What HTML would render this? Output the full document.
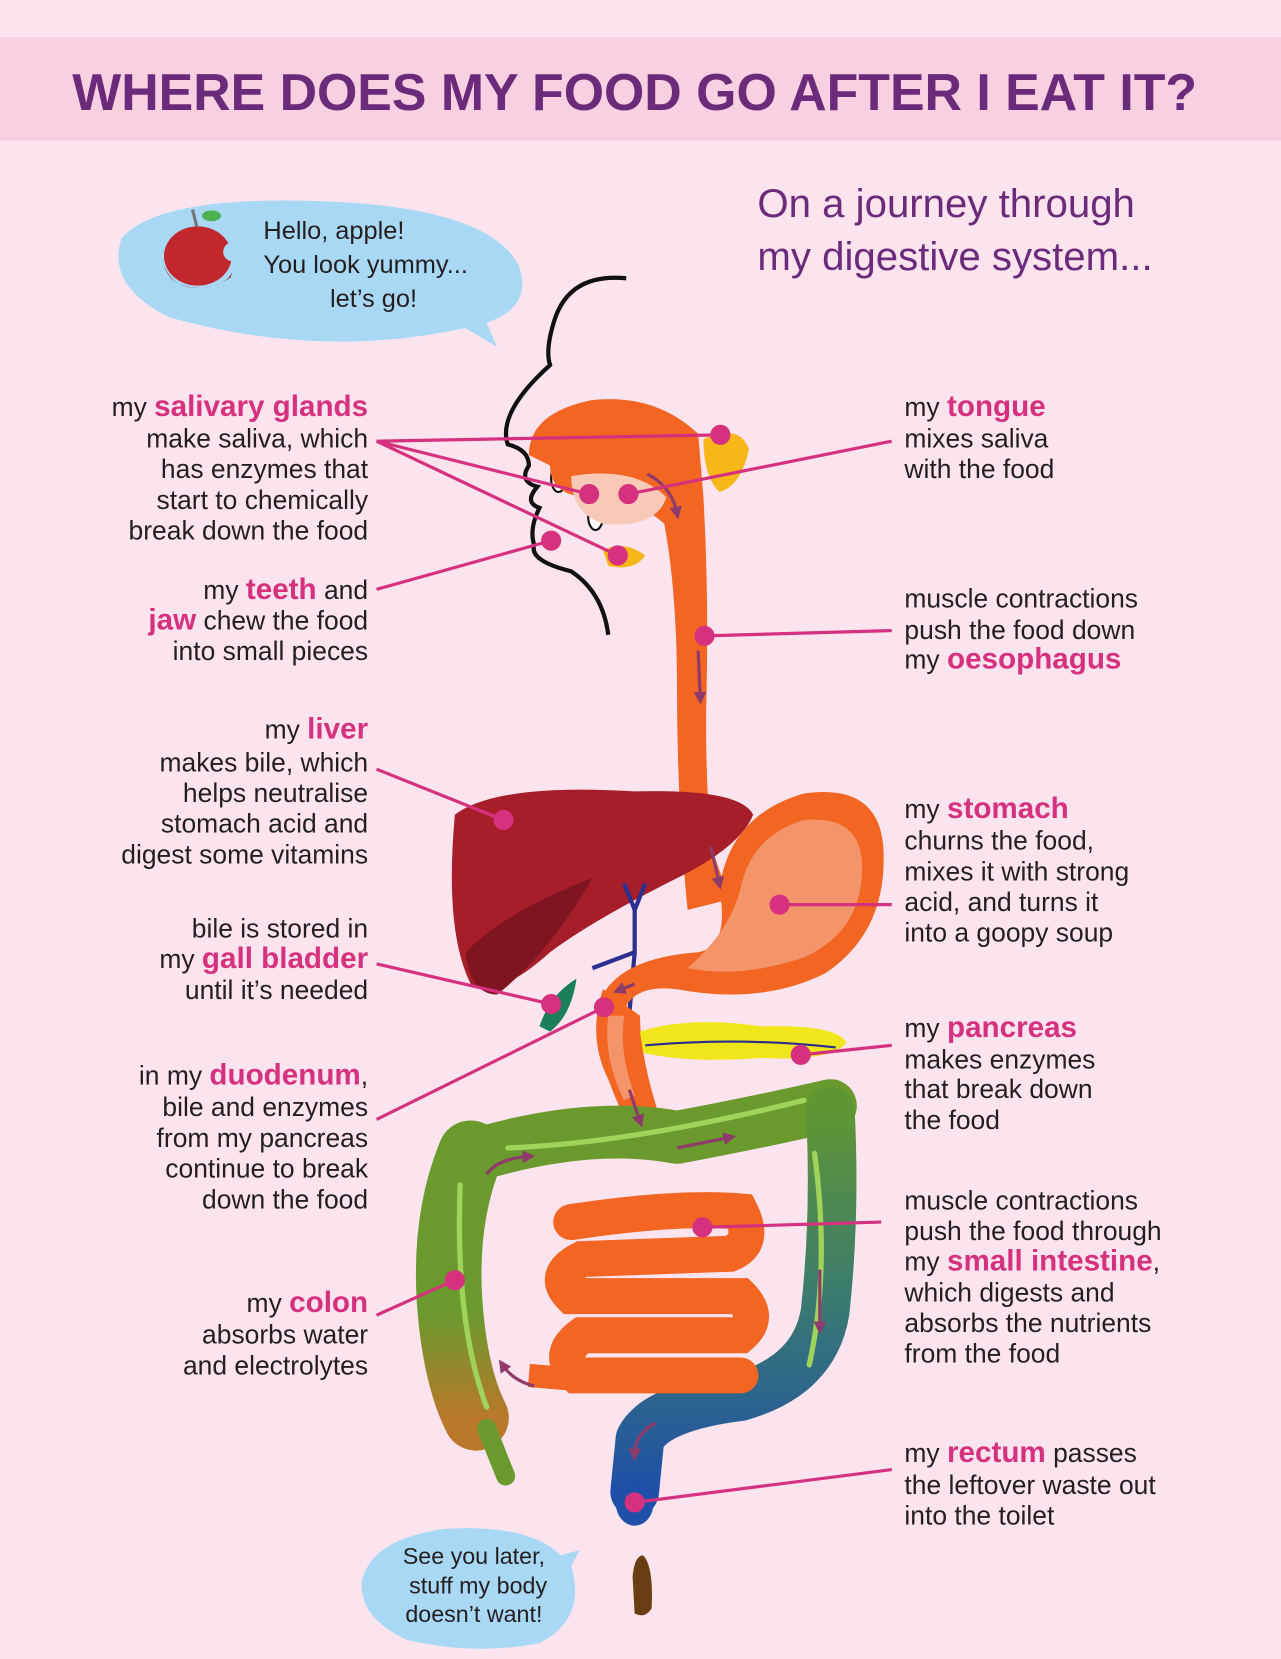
<!DOCTYPE html>
<html><head><meta charset="utf-8"><style>
html,body{margin:0;padding:0;background:#fbe4ee;}
svg{display:block}
text{font-family:"Liberation Sans","DejaVu Sans",sans-serif;}
.l{font-size:25px;fill:#231f20;text-anchor:end}
.r{font-size:25px;fill:#231f20}
.k{fill:#d6317e;font-weight:bold;font-size:28px}
</style></head><body>
<svg width="1281" height="1659" viewBox="0 0 1211 1568" preserveAspectRatio="none" xmlns="http://www.w3.org/2000/svg">
<defs>
<marker id="ar" viewBox="0 0 10 10" refX="5" refY="5" markerWidth="4" markerHeight="4" orient="auto"><path d="M0,0L10,5L0,10z" fill="#8e3b6b"/></marker>
<linearGradient id="rg" x1="0" y1="0" x2="0" y2="1"><stop offset="0" stop-color="#5f9634"/><stop offset="0.5" stop-color="#3a7a70"/><stop offset="1" stop-color="#1f4fa8"/></linearGradient>
<linearGradient id="lg" x1="0" y1="0" x2="0" y2="1"><stop offset="0.6" stop-color="#6a9a2e"/><stop offset="1" stop-color="#b9782a"/></linearGradient>
</defs>
<rect width="1211" height="1568" fill="#fbe4ee"/>
<rect x="0" y="35" width="1211" height="98" fill="#f8d0e1"/>
<text x="600" y="104" text-anchor="middle" font-size="49" font-weight="bold" fill="#6b2a7a">WHERE DOES MY FOOD GO AFTER I EAT IT?</text>
<text x="716" y="205" font-size="38" fill="#6b2a7a">On a journey through</text>
<text x="716" y="255" font-size="38" fill="#6b2a7a">my digestive system...</text>

<!-- bubble 1 -->
<path d="M470,328 L440,310 Q303,340 160,300 Q100,270 115,225 Q150,185 300,190 Q460,195 490,250 Q505,290 460,305 Z" fill="#a9d8f5"/>
<ellipse cx="187" cy="242" rx="32" ry="28" fill="#c1272d"/>
<path d="M155,250 Q160,272 190,272 Q215,270 220,256 L218,262 Q205,272 187,272 Q162,272 155,250Z" fill="#8e1b20"/>
<circle cx="220" cy="238" r="9" fill="#a9d8f5"/>
<path d="M186,214 L182,198" stroke="#777" stroke-width="3"/>
<ellipse cx="200" cy="204" rx="9" ry="5" fill="#4caf50"/>
<text x="249" y="226" font-size="24" fill="#231f20">Hello, apple!</text>
<text x="249" y="258" font-size="24" fill="#231f20">You look yummy...</text>
<text x="312" y="290" font-size="24" fill="#231f20">let’s go!</text>

<!-- face outline -->
<path d="M592,263 Q540,258 525,300 Q515,330 520,345 Q470,390 480,420 Q500,425 500,440 Q490,455 508,460 Q495,475 510,480 Q500,500 505,515 Q500,530 540,540 Q570,560 575,600" fill="none" stroke="#111" stroke-width="4"/>
<ellipse cx="528" cy="452" rx="7" ry="13" fill="#fff" stroke="#111" stroke-width="2"/>
<ellipse cx="563" cy="488" rx="7" ry="13" fill="#fff" stroke="#111" stroke-width="2"/>

<!-- mouth / throat -->
<path d="M500,430 Q500,390 560,378 Q620,372 660,410 L665,470 Q670,560 668,650 Q666,720 672,800 L690,850 L650,860 Q640,760 640,650 Q640,560 628,495 Q600,470 560,470 Q520,470 520,440Z" fill="#f26522"/>
<path d="M540,450 Q600,440 630,470 Q620,500 570,495 Q540,485 540,450Z" fill="#f9c9b8"/>
<path d="M665,415 Q700,400 708,425 Q700,460 680,465 Q665,450 665,415Z" fill="#f7b718"/>
<path d="M570,520 Q590,510 610,525 Q600,540 575,535Z" fill="#f7b718"/>

<!-- liver -->
<path d="M430,770 Q470,740 600,748 Q700,745 712,770 Q700,800 640,830 Q560,870 520,900 Q470,945 445,930 Q420,880 430,770Z" fill="#a61e2a"/>
<path d="M440,900 Q480,860 560,830 Q520,900 470,940 Q445,940 440,900Z" fill="#7e1520"/>
<path d="M590,835 L600,860 L610,835 M600,860 L600,900 L560,915 M600,900 L590,1015" stroke="#2b2f8f" stroke-width="4" fill="none"/>
<path d="M510,970 Q520,940 545,925 Q540,960 520,975Z" fill="#1b7f5a"/>

<!-- stomach -->
<path d="M680,840 Q690,770 760,750 Q830,740 835,800 Q840,880 780,920 Q720,950 640,935 Q600,930 590,955 L570,940 Q590,905 660,900 Q690,895 680,840Z" fill="#f26522"/>
<path d="M700,840 Q710,790 760,775 Q815,770 815,820 Q815,880 760,905 Q700,925 650,915 Q690,880 700,840Z" fill="#f4946a"/>
<path d="M570,935 Q555,980 575,1020 Q590,1060 600,1070 L625,1060 Q605,1000 605,960 Z" fill="#f26522"/>
<path d="M575,960 Q570,1000 590,1040 L600,1035 Q585,995 590,960Z" fill="#f4946a"/>
<path d="M605,975 Q650,960 720,970 Q790,968 800,985 Q790,1003 720,1000 Q650,1005 608,995Z" fill="#f0e61c"/>
<path d="M610,988 Q700,980 790,990" stroke="#2b2f8f" stroke-width="2" fill="none"/>

<!-- colon -->
<g fill="none" stroke-linecap="round" stroke-linejoin="round">
<path d="M455,1090 Q560,1060 640,1075 Q720,1060 785,1045" stroke="#6a9a2e" stroke-width="50"/>
<path d="M445,1090 Q420,1150 425,1230 Q430,1300 450,1340" stroke="url(#lg)" stroke-width="62"/>
<path d="M785,1050 Q790,1150 780,1240 Q770,1300 700,1320 Q620,1330 605,1360 L600,1410" stroke="url(#rg)" stroke-width="46"/>
<path d="M460,1350 Q470,1375 478,1395" stroke="#6a9a2e" stroke-width="18"/>
<path d="M480,1085 Q600,1080 760,1040" stroke="#9fd35a" stroke-width="5"/>
<path d="M435,1120 Q430,1250 460,1330" stroke="#9fd35a" stroke-width="5"/>
<path d="M770,1090 Q785,1200 765,1290" stroke="#9fd35a" stroke-width="5"/>
</g>
<ellipse cx="600" cy="1420" rx="18" ry="22" fill="#1f4fa8"/>

<!-- small intestine -->
<g fill="none" stroke="#f26522" stroke-width="34" stroke-linecap="round">
<path d="M540,1155 Q640,1140 700,1145 Q715,1175 690,1185 L550,1190 Q520,1205 540,1225 L700,1225 Q720,1245 700,1262 L550,1262 Q525,1280 545,1300 L700,1300"/>
</g>
<path d="M500,1300 L560,1305" stroke="#f26522" stroke-width="22"/>

<path d="M598,1490 Q600,1470 608,1470 Q618,1480 616,1520 Q610,1530 600,1525Z" fill="#6b3d12"/>

<g stroke="#8e3b6b" stroke-width="3" fill="none" marker-end="url(#ar)">
<path d="M612,448 Q635,460 640,485"/>
<path d="M660,615 L662,660"/>
<path d="M672,800 L680,835"/>
<path d="M600,930 L585,936"/>
<path d="M595,1030 L605,1060"/>
<path d="M460,1110 Q470,1095 500,1093"/>
<path d="M640,1085 L690,1075"/>
<path d="M775,1200 L775,1255"/>
<path d="M620,1345 Q600,1355 600,1375"/>
<path d="M505,1310 Q485,1305 475,1290"/>
</g>

<g stroke="#d6317e" stroke-width="3" fill="#d6317e">
<line x1="356" y1="417" x2="681" y2="411"/>
<line x1="356" y1="417" x2="557" y2="467"/>
<line x1="356" y1="417" x2="584" y2="525"/>
<line x1="356" y1="557" x2="521" y2="511"/>
<line x1="594" y1="467" x2="843" y2="417"/>
<line x1="666" y1="601" x2="843" y2="596"/>
<line x1="356" y1="727" x2="476" y2="775"/>
<line x1="737" y1="855" x2="843" y2="855"/>
<line x1="356" y1="911" x2="521" y2="949"/>
<line x1="356" y1="1058" x2="571" y2="952"/>
<line x1="757" y1="997" x2="843" y2="988"/>
<line x1="664" y1="1160" x2="833" y2="1155"/>
<line x1="356" y1="1243" x2="430" y2="1210"/>
<line x1="600" y1="1420" x2="843" y2="1389"/>
<circle cx="681" cy="411" r="8"/><circle cx="557" cy="467" r="8"/><circle cx="584" cy="525" r="8"/>
<circle cx="521" cy="511" r="8"/><circle cx="594" cy="467" r="8"/><circle cx="666" cy="601" r="8"/>
<circle cx="476" cy="775" r="8"/><circle cx="737" cy="855" r="8"/><circle cx="521" cy="949" r="8"/>
<circle cx="571" cy="952" r="8"/><circle cx="757" cy="997" r="8"/><circle cx="664" cy="1160" r="8"/>
<circle cx="430" cy="1210" r="8"/><circle cx="600" cy="1420" r="8"/>
</g>

<text class="l" x="348" y="393">my <tspan class="k">salivary glands</tspan></text>
<text class="l" x="348" y="423">make saliva, which</text>
<text class="l" x="348" y="452">has enzymes that</text>
<text class="l" x="348" y="481">start to chemically</text>
<text class="l" x="348" y="510">break down the food</text>
<text class="l" x="348" y="566">my <tspan class="k">teeth</tspan> and</text>
<text class="l" x="348" y="595"><tspan class="k">jaw</tspan> chew the food</text>
<text class="l" x="348" y="624">into small pieces</text>
<text class="l" x="348" y="698">my <tspan class="k">liver</tspan></text>
<text class="l" x="348" y="729">makes bile, which</text>
<text class="l" x="348" y="758">helps neutralise</text>
<text class="l" x="348" y="787">stomach acid and</text>
<text class="l" x="348" y="816">digest some vitamins</text>
<text class="l" x="348" y="886">bile is stored in</text>
<text class="l" x="348" y="915">my <tspan class="k">gall bladder</tspan></text>
<text class="l" x="348" y="944">until it’s needed</text>
<text class="l" x="348" y="1025">in my <tspan class="k">duodenum</tspan>,</text>
<text class="l" x="348" y="1055">bile and enzymes</text>
<text class="l" x="348" y="1084">from my pancreas</text>
<text class="l" x="348" y="1113">continue to break</text>
<text class="l" x="348" y="1142">down the food</text>
<text class="l" x="348" y="1240">my <tspan class="k">colon</tspan></text>
<text class="l" x="348" y="1270">absorbs water</text>
<text class="l" x="348" y="1299">and electrolytes</text>

<text class="r" x="855" y="393">my <tspan class="k">tongue</tspan></text>
<text class="r" x="855" y="423">mixes saliva</text>
<text class="r" x="855" y="452">with the food</text>
<text class="r" x="855" y="574">muscle contractions</text>
<text class="r" x="855" y="604">push the food down</text>
<text class="r" x="855" y="632">my <tspan class="k">oesophagus</tspan></text>
<text class="r" x="855" y="773">my <tspan class="k">stomach</tspan></text>
<text class="r" x="855" y="803">churns the food,</text>
<text class="r" x="855" y="832">mixes it with strong</text>
<text class="r" x="855" y="861">acid, and turns it</text>
<text class="r" x="855" y="890">into a goopy soup</text>
<text class="r" x="855" y="980">my <tspan class="k">pancreas</tspan></text>
<text class="r" x="855" y="1010">makes enzymes</text>
<text class="r" x="855" y="1038">that break down</text>
<text class="r" x="855" y="1067">the food</text>
<text class="r" x="855" y="1143">muscle contractions</text>
<text class="r" x="855" y="1172">push the food through</text>
<text class="r" x="855" y="1201">my <tspan class="k">small intestine</tspan>,</text>
<text class="r" x="855" y="1230">which digests and</text>
<text class="r" x="855" y="1259">absorbs the nutrients</text>
<text class="r" x="855" y="1288">from the food</text>
<text class="r" x="855" y="1382">my <tspan class="k" font-size="32">rectum</tspan> passes</text>
<text class="r" x="855" y="1412">the leftover waste out</text>
<text class="r" x="855" y="1441">into the toilet</text>

<path d="M548,1465 L540,1480 Q555,1530 510,1553 Q450,1565 385,1550 Q340,1530 342,1495 Q350,1455 420,1445 Q500,1440 530,1470Z" fill="#a9d8f5"/>
<text x="448" y="1478" text-anchor="middle" font-size="22" fill="#231f20">See you later,</text>
<text x="452" y="1506" text-anchor="middle" font-size="22" fill="#231f20">stuff my body</text>
<text x="448" y="1533" text-anchor="middle" font-size="22" fill="#231f20">doesn’t want!</text>
</svg>
</body></html>
